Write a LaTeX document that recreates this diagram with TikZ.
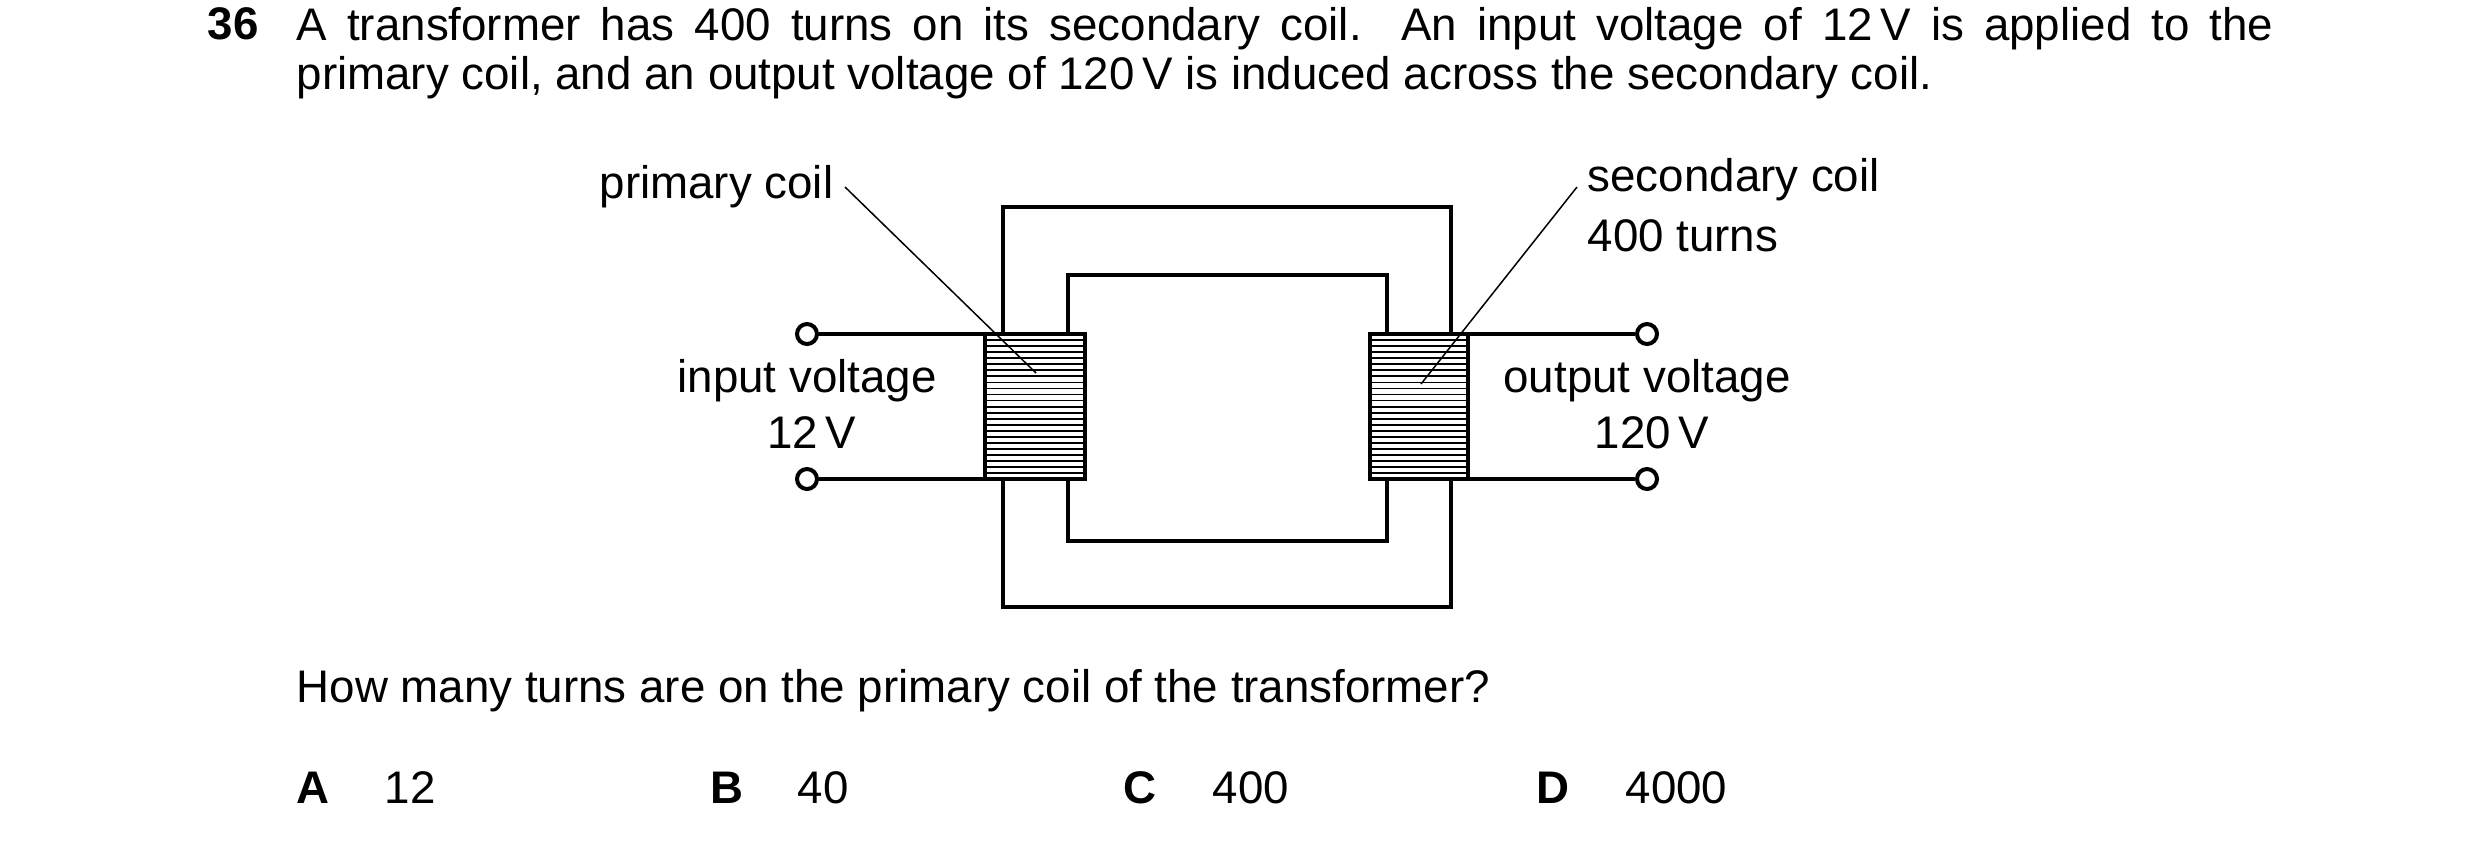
\documentclass[tikz,border=0pt]{standalone}
\usepackage{fontspec}
\setmainfont{Liberation Sans}
\begin{document}
\begin{tikzpicture}[x=0.1mm,y=-0.1mm,
  core/.style={line width=0.45mm},
  lead/.style={line width=0.15mm},
  term/.style={circle,draw,line width=0.4mm,fill=white,minimum size=2mm,inner sep=0},
  lbl/.style={font=\fontsize{13}{15}\selectfont,inner sep=0},
  txt/.style={font=\fontsize{13}{13.9}\selectfont,inner sep=0},
  bf/.style={font=\fontsize{13}{13.9}\selectfont\bfseries,inner sep=0}]
\useasboundingbox (0,0) rectangle (2480,844);
% text
\node[bf,anchor=north west] (num) at (207,7) {36};
\node[txt,anchor=north west,text width=197.7mm,align=justify] (q) at (296,7) {A transformer has 400 turns on its secondary coil. An input voltage of 12\,V is applied to the\linebreak primary coil, and an output voltage of 120\,V is induced across the secondary coil.};
\node[txt,anchor=west] (ask) at (296,691) {How many turns are on the primary coil of the transformer?};
\node[bf,anchor=west] (A) at (296,788) {A};
\node[txt,anchor=west] (a) at (384,788) {12};
\node[bf,anchor=west] (B) at (710,788) {B};
\node[txt,anchor=west] (b) at (797,788) {40};
\node[bf,anchor=west] (C) at (1123,788) {C};
\node[txt,anchor=west] (c) at (1212,788) {400};
\node[bf,anchor=west] (D) at (1536,788) {D};
\node[txt,anchor=west] (d) at (1625,788) {4000};
% core
\draw[core] (1003,207) rectangle (1451,607);
\draw[core] (1068,275) rectangle (1387,541);
% terminals and wires
\node[term] (t1) at (807,334) {};
\node[term] (t2) at (807,479) {};
\node[term] (t3) at (1647,334) {};
\node[term] (t4) at (1647,479) {};
\coordinate (p1) at (985,334); \coordinate (p2) at (985,479);
\coordinate (s1) at (1468,334); \coordinate (s2) at (1468,479);
\draw[line width=0.4mm] (t1) -- (p1) (t2) -- (p2) (t3) -- (s1) (t4) -- (s2);
% coils
\foreach \xa/\xb in {985/1085,1370/1468}{
  \fill[white] (\xa,334) rectangle (\xb,479);
  \foreach \k in {1,...,23}{
    \draw[line width=0.18mm] (\xa,334+\k*6.05) -- (\xb,334+\k*6.05);
  }
  \draw[core] (\xa,334) rectangle (\xb,479);
}
% labels
\node[lbl,anchor=east] (pl) at (834,187) {primary coil};
\coordinate (pe) at (1036,373);
\draw[lead] (845,187) -- (pe);
\node[lbl,anchor=west] (sl) at (1587,180) {secondary coil};
\node[lbl,anchor=west] (sl2) at (1587,236) {400 turns};
\coordinate (se) at (1421,384);
\draw[lead] (1577,187) -- (se);
\node[lbl] (iv) at (807,381) {input voltage};
\node[lbl] (iv2) at (812,433) {12\,V};
\node[lbl] (ov) at (1647,381) {output voltage};
\node[lbl] (ov2) at (1652,433) {120\,V};
\end{tikzpicture}
\end{document}
